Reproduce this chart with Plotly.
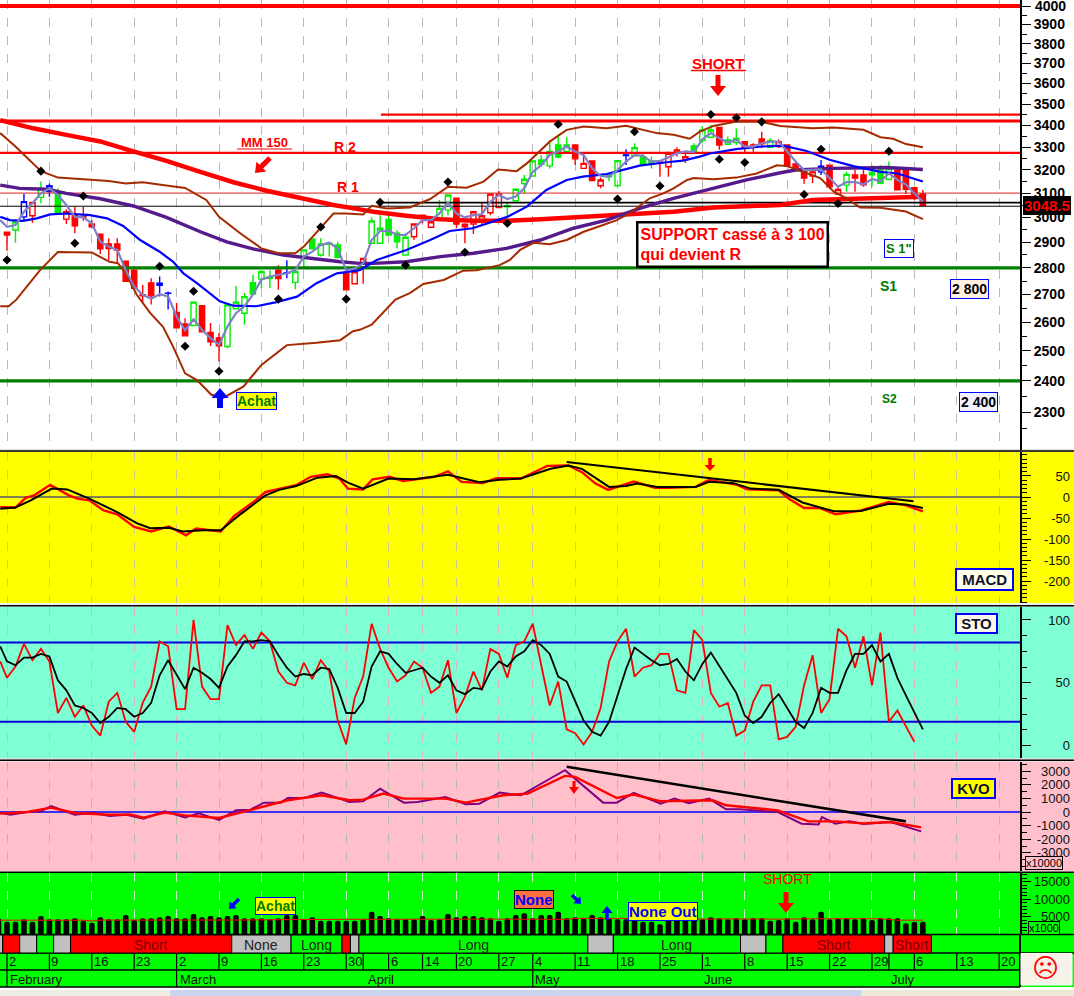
import plotly.graph_objects as go

W, H = 1074, 996
FONT = "Liberation Sans"

# ---------- bars ----------
bars = list(range(109))
c_high = [2939,2981,3096,3064,3149,3141,3120,3032,3043,3043,2988,2931,2915,2915,2825,2806,2735,2760,2767,2711,
          2669,2614,2672,2659,2597,2562,2662,2732,2705,2774,2786,2791,2810,2829,2791,2869,2912,2915,2901,2901,
          2804,2804,2836,2999,3008,3008,2948,2935,2972,3008,2995,3071,3092,3078,2975,3022,3057,3096,3110,3064,
          3120,3177,3239,3265,3333,3356,3345,3310,3261,3239,3167,3185,3240,3291,3318,3275,3258,3239,3281,3300,
          3281,3318,3396,3402,3390,3348,3385,3325,3318,3370,3340,3336,3310,3236,3206,3206,3243,3220,3133,3191,
          3199,3202,3220,3220,3236,3199,3206,3123,3113]
c_top = [2939,2981,3064,3061,3120,3131,3099,3022,3008,3003,2972,2931,2892,2892,2825,2791,2699,2743,2742,2705,
         2635,2594,2672,2659,2564,2545,2662,2672,2692,2744,2786,2763,2791,2781,2786,2869,2912,2892,2895,2888,
         2779,2785,2836,2985,2955,2991,2935,2919,2972,3008,2981,3036,3092,3078,2971,3022,3006,3096,3096,3047,
         3116,3159,3239,3243,3281,3310,3310,3310,3228,3239,3156,3173,3240,3265,3298,3258,3239,3234,3273,3288,
         3258,3306,3378,3378,3390,3333,3340,3325,3310,3337,3330,3325,3310,3225,3199,3191,3216,3220,3115,3180,
         3177,3177,3188,3199,3206,3199,3199,3123,3096]
c_bottom = [2928,2948,3001,3006,3082,3106,3018,2992,2965,2999,2961,2873,2874,2868,2749,2723,2695,2695,2734,2704,
            2580,2552,2588,2566,2531,2518,2515,2648,2632,2702,2757,2760,2759,2780,2745,2836,2873,2849,2891,2839,
            2717,2740,2804,2895,2895,2928,2901,2849,2921,2999,2959,2995,3029,2972,2961,2972,2991,3018,3040,3043,
            3068,3141,3173,3224,3217,3256,3281,3248,3206,3153,3131,3170,3131,3263,3261,3224,3224,3231,3213,3276,
            3245,3278,3330,3345,3310,3313,3321,3296,3303,3315,3300,3303,3216,3211,3164,3173,3191,3127,3096,3134,
            3164,3135,3178,3142,3158,3114,3116,3085,3048]
c_low = [2866,2897,2988,2977,3057,3085,3015,2972,2935,2985,2955,2853,2830,2817,2749,2717,2669,2663,2693,2645,
         2580,2552,2588,2566,2517,2464,2509,2648,2591,2702,2723,2723,2717,2760,2719,2797,2873,2843,2843,2839,
         2717,2740,2740,2895,2895,2928,2875,2849,2908,2975,2959,2995,3008,2955,2895,2932,2968,3008,3040,3001,
         3068,3099,3173,3213,3206,3251,3281,3221,3206,3153,3120,3150,3131,3221,3258,3224,3206,3170,3170,3258,
         3230,3278,3318,3345,3288,3313,3310,3273,3280,3296,3296,3296,3216,3199,3140,3143,3177,3120,3092,3106,
         3106,3127,3127,3138,3158,3114,3096,3071,3048]
c_kind = list("RgbrgbGrRrRRRRRRrRbbRRgRRRgggGggRbggGggGRrrggGGgrrrggRrrrrrggggGgGgRrRrggbgGGrrrrGggRggRrRgrRRRrbRrgRRgGgRRRR")

# ---------- overlays, main panel ----------
ma_x = [-0.8] + bars
ma_fast = [2988,2961,2968,3022,3057,3099,3120,3092,3050,3001,2999,2975,2901,2882,2869,2791,2729,2699,2684,2701,2693,
           2620,2571,2610,2573,2544,2521,2585,2632,2657,2699,2755,2767,2773,2779,2791,2843,2862,2888,2897,2875,2791,2797,
           2817,2908,2944,2945,2928,2928,2955,2988,2988,3015,3060,3015,2999,3008,3012,3064,3092,3075,3085,3120,3191,3220,
           3265,3281,3303,3281,3265,3206,3173,3170,3199,3236,3265,3261,3236,3239,3255,3273,3281,
           3278,3336,3364,3340,3321,3333,3303,3303,3318,3325,3325,3281,3236,3199,3199,3202,3164,3127,3147,3147,3137,3160,
           3150,3184,3156,3137,3099,3064]
up_x = [-0.8,1,4,6,9,12,14,16,19,21,23.5,25,27.5,30,32,34,35,37,38.5,40,42,43,44.8,47.5,49.9,52,54.2,56.2,57.9,60.1,
        61.3,64,66,68,70.7,73,74.6,76.6,78.6,80.5,81.7,83.3,86,88.9,91.2,95,97.5,101,103,104.5,106,108]
up_y = [3364,3303,3194,3166,3159,3151,3141,3146,3131,3122,3071,3001,2935,2875,2856,2856,2882,2955,3015,3015,3011,3047,
        3036,3040,3075,3127,3123,3149,3201,3194,3228,3325,3379,3394,3386,3398,3382,3364,3356,3338,3371,3397,3417,3417,
        3397,3386,3390,3379,3345,3338,3314,3300]
lo_x = [-0.8,0.2,1.1,3.9,6,10,12.1,13.1,14,15.3,16.9,18.4,19.6,21,22.4,24.1,25.5,27.9,30,33,36.5,39.3,40.8,41.6,43,44.5,
        45.8,47.5,49.1,51.5,53.8,55.4,58.1,59.3,60.5,62.1,64,66,68,70.3,71.9,73.4,75.8,77.4,78.6,80.2,81,83.3,86,88.4,
        90.8,92,94,95.9,97.5,99,100.6,103,106,108]
lo_y = [2657,2657,2681,2791,2861,2859,2823,2817,2779,2699,2632,2584,2514,2425,2403,2355,2345,2382,2453,2520,2528,2537,
        2568,2573,2591,2640,2681,2705,2739,2754,2789,2791,2810,2830,2869,2897,2891,2908,2941,2968,2988,3015,3078,3099,
        3120,3156,3164,3159,3166,3184,3220,3216,3191,3164,3106,3078,3040,3039,3023,2992]
mid_x = [-0.8,0.35,1.9,3.5,5.1,7,9.8,11.8,13.7,15.7,18,19.6,20.8,22.4,25.1,26.7,29.4,31.8,34.2,36.5,38.9,41.6,43.6,47.1,
         49.9,52.2,54.9,56.6,59,61.3,63.6,66,67.9,70.7,72.7,74.6,77.8,79.7,81.7,82.9,86,89,91.5,94.3,97,99.8,103,105,108]
mid_y = [3001,2988,2985,2995,3011,3015,3008,2995,2964,2908,2862,2823,2779,2742,2675,2659,2657,2672,2692,2742,2779,2791,
         2830,2869,2908,2944,2955,2975,3001,3043,3113,3156,3170,3181,3199,3218,3233,3240,3258,3272,3291,3303,3307,3283,
         3244,3216,3191,3184,3149]
ma50_x = [-0.8,1.5,4.7,7,11,14.9,18.8,22.8,25.9,29,32.6,36.5,39.3,41.6,43.2,47.1,51.1,55,58.9,62.9,66.8,70.7,74.6,78.6,
          82.5,87.2,91.2,93,97.3,103.8,108]
ma50_y = [3134,3120,3116,3099,3076,3046,2999,2941,2901,2873,2849,2833,2823,2817,2817,2823,2843,2856,2875,2908,2955,2988,
          3036,3078,3113,3156,3187,3199,3206,3210,3201]
ma150_x = [-0.8,3.1,7,11,14.9,18.8,22.8,26.7,30.6,34.6,38.5,41.6,43.2,47.1,51.1,55,58.9,62.9,66.8,70.7,74.6,78.6,83.3,
           91.2,95,99,108]
ma150_y = [3424,3386,3356,3326,3281,3239,3191,3146,3110,3078,3050,3032,3022,3006,2991,2985,2985,2991,2999,3006,3015,
           3022,3040,3050,3071,3075,3085]
pivot_x = [0,4,8,9,18,21,22,25,32,37,40,44,47,52,54,59,65,72,74,77,83,84,86,87,89,94,96,98,104]
pivot_y = [2830,3194,2895,3088,2806,2516,2712,2432,2683,2960,2683,3061,2810,3147,2860,2975,3405,3075,3370,3130,3450,
           3246,3435,3232,3416,3094,3291,3056,3282]
level_4000 = 4000
level_3450 = 3450
level_3420 = 3420
level_r2 = 3275
level_r1 = 3100
level_3060 = 3060
level_3045 = 3045
level_s1 = 2800
level_s2 = 2400
level_start = 44.1

# ---------- MACD ----------
macd_sig_x = [-0.8,1,2.8,5.3,7.1,9.7,13,15.4,16.9,19.1,20.7,23.2,25.2,27.6,30.5,32.1,34.1,36.6,38.8,40.2,42,45,48,52,
              55.7,58.1,60.6,62.9,64.1,66.2,67.8,71,73,74.3,76.7,81.2,82.8,85.7,87.7,91,93.8,97.5,100.7,104,106,108]
macd_sig_y = [-28,-25,-8,20,18,-4,-36,-63,-74,-73,-82,-79,-79,-40,4,17,26,46,50,34,20,44,42,53,35,41,44,58,67,75,67,
              24,26,32,24,24,36,33,20,17,-13,-34,-33,-16,-18,-26]
macd_x = [-0.8,1,2.2,3.2,5.1,7.3,8.3,9.7,11.4,13,15,17,19.1,21.1,22.3,25.2,26.8,29.3,30.5,34.1,35.8,37.8,39.2,40.2,42,
          43.1,45.1,46.7,50.4,52,53.6,56.1,57.7,60.6,62.9,63.7,66.2,67.8,69.4,70.9,73.9,76.4,78,81.2,82.8,86.1,87.3,
          91,92.2,94,95.8,97.7,100.7,104,106,108]
macd_y = [-24,-25,-2,4,29,4,-4,-8,-32,-41,-71,-82,-70,-91,-75,-82,-45,-8,12,28,48,54,44,20,18,42,48,38,48,61,36,33,45,
          44,66,74,75,59,32,17,37,22,22,24,41,29,18,16,-4,-26,-26,-41,-32,-12,-20,-34]
macd_trend_x = [66, 106.9]
macd_trend_y = [83, -10]

# ---------- Stochastic ----------
sto_x = [-0.8] + bars
sto_k = [67,54,63,81,68,77,67,26,38,23,32,16,8,35,42,19,11,34,47,83,79,29,29,100,47,37,37,96,80,88,77,90,83,59,50,48,66,
         53,68,59,20,1,38,55,97,77,62,51,56,67,62,42,47,68,26,39,59,44,77,73,54,80,83,97,
         64,32,51,13,10,1,11,30,67,83,93,55,62,64,73,73,44,42,92,84,42,31,34,8,12,35,48,48,5,7,15,48,72,26,37,93,87,62,87,
         48,90,19,28,15,3]
sto_d = [79,67,64,70,70,73,71,52,44,32,30,26,18,23,30,29,23,26,34,56,68,56,45,62,58,53,46,63,72,83,83,84,83,72,62,55,57,
         56,62,61,46,26,26,35,63,75,73,65,58,60,62,55,50,56,44,41,46,45,59,67,63,71,75,84,
         80,73,55,51,35,20,11,8,19,40,61,78,73,68,64,65,69,59,52,65,74,63,52,42,24,18,23,34,41,30,19,14,26,46,42,42,60,73,
         73,80,67,73,54,40,27,13]
sto_high = 82
sto_low = 19

# ---------- Klinger ----------
kvo_x = [-0.8,0.4,2.4,4,5.2,8,10.1,12.1,14.1,16.1,18.6,21,22.6,25,27,28.7,30.3,32.3,33.1,35.1,37.1,40.4,42,44,46.8,48.4,
         51.7,54.1,55.7,58.1,60.6,61.8,65.8,70.3,71.9,73.9,77.1,78.7,80.4,82.8,84.8,86.4,90.9,93.7,95.7,96.1,97.7,99.3,
         101,104.2,107.8]
kvo_y = [-49,-197,0,49,443,-197,-49,-295,-197,-492,49,-394,-98,-590,123,172,689,689,1033,1033,1427,738,787,1722,689,738,
         1107,566,615,1427,1230,1648,3075,689,689,1402,615,984,640,984,197,197,0,-861,-910,-369,-861,-689,-886,-738,-1427]
kvo_sig_x = [-0.8,2.4,5.2,8,12.1,14.5,16.1,18.6,21,25,29,33.1,37.1,40.4,42,44.4,46.8,51.7,54.1,58.5,61.4,65.8,67,71.9,
             73.9,77.1,83.2,84.8,90.9,94.5,97.7,101,104.2,107.8]
kvo_sig_y = [-123,0,320,-74,-197,-172,-418,-49,-246,-443,197,861,1230,861,910,1353,984,984,689,1230,1353,2657,2583,1033,
             1279,787,861,492,123,-689,-689,-837,-738,-1132]
kvo_trend_x = [66, 106]
kvo_trend_y = [3321, -689]

# ---------- Volume ----------
vol_x = [-1] + bars
volume = [4470,3520,3520,4190,3520,5140,4190,4190,4190,4470,3810,3240,4760,4190,4190,5430,4000,4470,4470,4760,5140,4470,
          4470,5710,4760,5140,4760,5140,5430,4470,4470,4470,4190,4470,5430,5430,4190,4760,3810,3810,3810,3810,3810,4190,
          6380,5140,4470,4190,4190,4190,5140,4000,4190,5710,4760,5140,5140,4760,4470,3810,4470,5430,5900,4470,
          5430,5430,6380,4470,4760,4470,5430,4760,4470,4190,4190,4190,3520,3520,2760,4190,4190,4190,4190,4190,4760,4470,
          4190,4470,4190,4470,4470,3810,4000,4470,3520,4760,4190,6380,4190,4470,4470,4190,4470,4000,4470,4470,4470,3050,
          3520,3520]
vol_ma_x = [-0.8,9,10,11,27,33,40,58,62,66,67,75,83,84,92,95,103,105,108]
vol_ma_y = [3950,3950,3700,3980,4000,4100,4200,4250,4200,4200,4450,4470,4250,4300,4250,4350,4350,3950,3950]

# ---------- bottom rows ----------
date_bars = [0,5,10,15,20,25,30,35,40,45,49,53,58,62,67,72,77,82,87,92,97,102,107,112,117]
date_text = ["2","9","16","23","2","9","16","23","30","6","14","20","27","4","11","18","25","1","8","15","22","29","6","13","20"]
extra_date_lines = [42, 104]
month_bars = [0,20,42.3,62,82,104]
month_text = ["February","March","April","May","June","July"]
month_offset = [1,1,0,0,0,0]
month_line_bars = [0,20,62]
state_start = [-0.9,-0.5,1.5,3.5,5.5,7.5,26.5,33.5,39.5,40.5,41.5,68.5,71.5,86.5,89.5,91.5,103.5,104.5]
state_end = [-0.5,1.5,3.5,5.5,7.5,26.5,33.5,39.5,40.5,41.5,68.5,71.5,86.5,89.5,91.5,103.5,104.5,109]
state_kind = ["n","s","n","l","n","s","n","l","s","n","l","n","l","n","l","s","n","s"]
state_text = ["","","","","","Short","None","Long","","","Long","","Long","","","Short","","Short"]

price_ticks = list(range(2300, 4001, 100))
macd_ticks = [50, 0, -50, -100, -150, -200]
sto_ticks = [100, 50, 0]
kvo_ticks = [3000, 2000, 1000, 0, -1000, -2000, -3000]
vol_ticks = [15000, 10000, 5000]

# ---------- layout helpers ----------
X_MAX = (1020 - 7) / 8.48
X_MIN = -7 / 8.48
X_RANGE = [X_MIN, X_MAX]
AXIS_END = 1020 / W


def px_x(x):
    return x / W


def px_y(y):
    return 1 - y / H


def dom(top, bottom):
    return [px_y(bottom), px_y(top)]


PANELS = {
    "main": (0, 450), "macd": (452, 603), "sto": (607, 758), "kvo": (761.5, 871), "vol": (873, 934),
}

fig = go.Figure()
ax_idx = {"main": "", "macd": "2", "sto": "3", "kvo": "4", "vol": "5"}


def line(panel, x, y, color, width, dash=None, name=None):
    i = ax_idx[panel]
    fig.add_trace(go.Scatter(x=x, y=y, mode="lines", name=name or panel, showlegend=False, hoverinfo="skip",
                             line=dict(color=color, width=width, dash=dash), xaxis="x" + i, yaxis="y" + i))


STYLES = {"g": ("#00ee00", "rgba(0,0,0,0)"), "G": ("#00ee00", "#00ee00"), "r": ("#ff0000", "rgba(0,0,0,0)"),
          "R": ("#ff0000", "#ff0000"), "b": ("#0000ff", "rgba(0,0,0,0)")}
for k, (col, fill) in STYLES.items():
    idx = [i for i in bars if c_kind[i] == k]
    style = dict(line=dict(color=col, width=1.4), fillcolor=fill)
    fig.add_trace(go.Candlestick(x=[bars[i] for i in idx], open=[c_bottom[i] for i in idx], high=[c_high[i] for i in idx],
                                 low=[c_low[i] for i in idx], close=[c_top[i] for i in idx], increasing=style,
                                 decreasing=style, whiskerwidth=0, showlegend=False, hoverinfo="skip"))

# levels
line("main", X_RANGE, [level_4000] * 2, "#ff0000", 4)
line("main", X_RANGE, [level_3420] * 2, "#ff0000", 3.2)
line("main", [level_start, X_MAX], [level_3450] * 2, "#ff0000", 2.2)
line("main", X_RANGE, [level_r2] * 2, "#ff0000", 2.2)
line("main", X_RANGE, [level_r1] * 2, "#e02020", 1)
line("main", [level_start, X_MAX], [level_3060] * 2, "#000000", 1.8)
line("main", X_RANGE, [level_3045] * 2, "#000000", 1)
line("main", X_RANGE, [level_s1] * 2, "#008000", 3.2)
line("main", X_RANGE, [level_s2] * 2, "#008000", 3.2)
# overlays
line("main", ma150_x, ma150_y, "#ff0000", 4.5, name="MM 150")
line("main", ma50_x, ma50_y, "#551a8b", 3.4)
line("main", up_x, up_y, "#a52a00", 2)
line("main", lo_x, lo_y, "#a52a00", 2)
line("main", mid_x, mid_y, "#0000ff", 2.2)
line("main", ma_x, ma_fast, "#8080c8", 2.2)
fig.add_trace(go.Scatter(x=pivot_x, y=pivot_y, mode="markers", showlegend=False, hoverinfo="skip",
                         marker=dict(symbol="diamond", size=7, color="#000000")))

# MACD
line("macd", X_RANGE, [0, 0], "#0000a0", 1)
line("macd", macd_x, macd_y, "#ff0000", 2.4)
line("macd", macd_sig_x, macd_sig_y, "#000000", 2)
line("macd", macd_trend_x, macd_trend_y, "#000000", 2)
# STO
line("sto", X_RANGE, [sto_high] * 2, "#0000e0", 2)
line("sto", X_RANGE, [sto_low] * 2, "#0000e0", 2)
line("sto", sto_x, sto_k, "#ff0000", 1.8)
line("sto", sto_x, sto_d, "#000000", 1.8)
# KVO
line("kvo", X_RANGE, [0, 0], "#0000ff", 1.4)
line("kvo", kvo_x, kvo_y, "#800080", 2)
line("kvo", kvo_sig_x, kvo_sig_y, "#ff0000", 2.4)
line("kvo", kvo_trend_x, kvo_trend_y, "#000000", 2.6)
# Volume
fig.add_trace(go.Bar(x=vol_x, y=volume, width=0.66, showlegend=False, hoverinfo="skip", xaxis="x5", yaxis="y5",
                     marker=dict(color="#000000", line=dict(width=0), cornerradius=2)))
line("vol", vol_ma_x, vol_ma_y, "#ff0000", 1)

# ---------- axes ----------
GRID = {"main": "#b8b8b8", "macd": "#c8c890", "sto": "#d8b4c4", "kvo": "#b4bca8", "vol": "#c8f8c8"}
layout = dict(width=W, height=H, margin=dict(l=0, r=0, t=0, b=0), paper_bgcolor="#ffffff", plot_bgcolor="rgba(0,0,0,0)",
              showlegend=False, boxgap=0.12, boxmode="overlay", bargap=0.3, hovermode=False, dragmode=False,
              font=dict(family=FONT, color="#000000", size=13))
for p, (top, bot) in PANELS.items():
    i = ax_idx[p]
    layout["xaxis" + i] = dict(domain=[0, AXIS_END], range=X_RANGE, anchor="y" + i, tickmode="array", tickvals=date_bars,
                               showticklabels=False, ticks="", showgrid=True, gridcolor=GRID[p], griddash="dash",
                               gridwidth=1, zeroline=False, showline=False, rangeslider=dict(visible=False),
                               fixedrange=True)


def yaxis(panel, rng, ticks, minor, **kw):
    top, bot = PANELS[panel]
    d = dict(domain=dom(top, bot), range=rng, anchor="x" + ax_idx[panel], side="right", tickmode="array", tickvals=ticks,
             ticks="outside", ticklen=9, tickwidth=1, tickcolor="#000000", showline=True, linecolor="#000000",
             linewidth=2, showgrid=False, zeroline=False, fixedrange=True,
             minor=dict(tickmode="array", tickvals=minor, ticks="outside", ticklen=5, tickcolor="#000000", showgrid=False))
    d.update(kw)
    return d


LOG_TOP = 3.60561
LOG_BOT = 3.33934
layout["yaxis"] = yaxis("main", [LOG_BOT, LOG_TOP], price_ticks, [2250 + 100 * k for k in range(18)], type="log",
                        showticklabels=True, tickfont=dict(size=14, family=FONT, color="#000000", weight="bold"),
                        ticktext=[str(v) for v in price_ticks])
MACD_R = [-252, 107]
STO_R = [-9.8, 110.3]
KVO_R = [-4338, 3713]
VOL_R = [0, 17430]
layout["yaxis2"] = yaxis("macd", MACD_R, macd_ticks, [v for v in range(-250, 110, 10)], showticklabels=False)
layout["yaxis3"] = yaxis("sto", STO_R, sto_ticks, [v * 12.5 for v in range(0, 9)], showticklabels=False)
layout["yaxis4"] = yaxis("kvo", KVO_R, kvo_ticks, [v * 500 for v in range(-8, 8)], showticklabels=False)
layout["yaxis5"] = yaxis("vol", VOL_R, vol_ticks, [v * 1000 for v in range(1, 18)], showticklabels=False)

# right-aligned labels: companion axes sharing each panel's range
LABEL_END = 1070 / W
for n, (p, rng, ticks) in enumerate([("macd", MACD_R, macd_ticks), ("sto", STO_R, sto_ticks),
                                     ("kvo", KVO_R, kvo_ticks), ("vol", VOL_R, vol_ticks)]):
    j = 6 + n
    top, bot = PANELS[p]
    layout[f"yaxis{j}"] = dict(domain=dom(top, bot), range=rng, overlaying="y" + ax_idx[p], anchor="free",
                               position=LABEL_END, side="left", tickmode="array", tickvals=ticks,
                               ticktext=[str(v) for v in ticks], ticks="", showline=False,
                               showgrid=False, zeroline=False, fixedrange=True,
                               tickfont=dict(size=13, family=FONT, color="#101010"))
    fig.add_trace(go.Scatter(x=[X_MAX], y=[rng[0]], mode="markers", marker=dict(opacity=0, size=1), showlegend=False,
                             hoverinfo="skip", xaxis="x" + ax_idx[p], yaxis=f"y{j}"))

# ---------- backgrounds and furniture ----------
shapes = []
annots = []


def rect(x0, y0, x1, y1, fill, layer="below", lc=None, lw=0):
    shapes.append(dict(type="rect", xref="paper", yref="paper", x0=px_x(x0), x1=px_x(x1), y0=px_y(y0), y1=px_y(y1),
                       fillcolor=fill, line=dict(color=lc or fill, width=lw), layer=layer))


def hline(y, x0=0, x1=W, color="#000000", width=1.5):
    shapes.append(dict(type="line", xref="paper", yref="paper", x0=px_x(x0), x1=px_x(x1), y0=px_y(y), y1=px_y(y),
                       line=dict(color=color, width=width), layer="above"))


rect(0, 452, W, 603, "#ffff00")
rect(0, 607, W, 758, "#7fffd4")
rect(0, 761.5, W, 871, "#ffc0cb")
rect(0, 873, W, 987, "#00ff00")
rect(0, 449, W, 452, "#e4e4e4")
rect(0, 603, W, 607, "#f0f0f0")
rect(0, 758, W, 761.5, "#e0e0e0")
rect(0, 871, W, 873, "#f0f0f0")
rect(0, 987, W, H, "#ffffff")
rect(0, 990, 170, H, "#f0ede2")
rect(170, 990, 861, H, "#c8d4f0")
rect(861, 990, W, H, "#ece9d8")

for y in (451, 605.8, 760.3, 872.2):
    hline(y, width=1.6)
hline(934.6)
hline(953, color="#000000", width=1.3)
hline(970, x1=1020, width=1.3)
hline(987, x1=1020, width=1.3, color="#000000")
shapes.append(dict(type="line", xref="paper", yref="paper", x0=px_x(1020), x1=px_x(1020), y0=px_y(934), y1=px_y(987),
                   line=dict(color="#000000", width=2), layer="above"))

STATE_COLOR = {"s": "#ff0000", "n": "#c0c0c0", "l": "#00ff00"}
for a, b, k, t in zip(state_start, state_end, state_kind, state_text):
    shapes.append(dict(type="rect", xref="x5", yref="paper", x0=a, x1=b, y0=px_y(953), y1=px_y(935),
                       fillcolor=STATE_COLOR[k], line=dict(color="#000000", width=1), layer="above"))
    if t:
        annots.append(dict(x=(a + b) / 2, y=px_y(944.5), xref="x5", yref="paper", text=t, showarrow=False, yanchor="middle",
                           font=dict(size=14, family=FONT, color="#7a0000" if k == "s" else "#202020")))

for b, t in zip(date_bars, date_text):
    shapes.append(dict(type="line", xref="x5", yref="paper", x0=b, x1=b, y0=px_y(970), y1=px_y(953),
                       line=dict(color="#000000", width=1.2), layer="above"))
    annots.append(dict(x=b, y=px_y(961.5), xref="x5", yref="paper", text=t, showarrow=False, xanchor="left", yanchor="middle",
                       xshift=0, font=dict(size=13, family=FONT, color="#101010")))
for b in extra_date_lines:
    shapes.append(dict(type="line", xref="x5", yref="paper", x0=b, x1=b, y0=px_y(970), y1=px_y(953),
                       line=dict(color="#000000", width=1.2), layer="above"))
for b in month_line_bars:
    shapes.append(dict(type="line", xref="x5", yref="paper", x0=b, x1=b, y0=px_y(987), y1=px_y(970),
                       line=dict(color="#000000", width=1.2), layer="above"))
for b, t, off in zip(month_bars, month_text, month_offset):
    annots.append(dict(x=b, y=px_y(979), xref="x5", yref="paper", text=t, showarrow=False, xanchor="left", yanchor="middle",
                       xshift=off, font=dict(size=13, family=FONT, color="#101010")))


def text(x, y, t, size=13, color="#000000", bold=False, bg=None, border=None, bw=0, pad=1, anchor="center", align="center"):
    annots.append(dict(x=px_x(x), y=px_y(y), xref="paper", yref="paper", text=f"<b>{t}</b>" if bold else t, showarrow=False,
                       xanchor=anchor, yanchor="middle", align=align, font=dict(size=size, family=FONT, color=color),
                       bgcolor=bg, bordercolor=border, borderwidth=bw, borderpad=pad))


def arrow(x0, y0, x1, y1, color, w, hw, hl):
    dx, dy = x1 - x0, y1 - y0
    n = (dx * dx + dy * dy) ** 0.5
    ux, uy = dx / n, dy / n
    vx, vy = -uy, ux
    bx, by = x1 - ux * hl, y1 - uy * hl
    pts = [(x0 + vx * w / 2, y0 + vy * w / 2), (bx + vx * w / 2, by + vy * w / 2), (bx + vx * hw / 2, by + vy * hw / 2),
           (x1, y1), (bx - vx * hw / 2, by - vy * hw / 2), (bx - vx * w / 2, by - vy * w / 2),
           (x0 - vx * w / 2, y0 - vy * w / 2)]
    path = "M " + " L ".join(f"{px_x(a):.5f} {px_y(b):.5f}" for a, b in pts) + " Z"
    shapes.append(dict(type="path", xref="paper", yref="paper", path=path, fillcolor=color, line=dict(width=0), layer="above"))


RED = "#ff0000"
BLUE = "#0000ff"
GREEN = "#007a00"
NB = "\u00a0"
text(1034, 6.5, "4000", 14, "#000000", True, anchor="left")
text(718, 63, "SHORT", 15, RED, True)
hline(70.5, 691, 746, RED, 1.5)
arrow(718, 75, 718, 96, RED, 5, 16, 10)
text(264, 142.5, "MM 150", 13, RED, True)
hline(149, 237, 292, RED, 1)
arrow(270, 158, 255, 173, RED, 5, 14, 9)
text(345, 147, "R 2", 14, RED, True)
text(348, 187, "R 1", 14, RED, True)
text(732, 245, "SUPPORT cassé à 3 100<br>qui devient R", 16, RED, True, bg="#ffffff", border="#000000", bw=2.5, pad=2,
     anchor="center", align="left")
text(1047, 205.5, "3048.5", 15, RED, True, bg="#000000", pad=1)
text(899, 248, 'S 1"', 13, GREEN, True, bg="#ffffff", border=BLUE, bw=1, pad=1)
text(888, 286, "S1", 14, GREEN, True)
text(889, 399, "S2", 12, GREEN, True)
text(969, 289, "2 800", 14, "#000000", True, bg="#fff0e0", border=BLUE, bw=1, pad=1)
text(978, 402, "2 400", 14, "#000000", True, bg="#f0f0ff", border=BLUE, bw=1, pad=1)
arrow(220, 408, 220, 388, BLUE, 6, 17, 10)
text(256.5, 401, "Achat", 14, GREEN, True, bg="#ffff00", border=BLUE, bw=1, pad=0)
text(984, 579, NB + "MACD" + NB, 15, "#101030", True, bg="#ffffe8", border=BLUE, bw=2, pad=1)
text(976, 623, NB + "STO" + NB, 15, "#101030", True, bg="#fff8e8", border=BLUE, bw=2, pad=0)
text(973, 788, NB + "KVO" + NB, 15, "#101030", True, bg="#ffff00", border=BLUE, bw=2, pad=0)
arrow(710, 458, 710, 471, RED, 3.5, 11, 6)
arrow(574, 781, 574, 794, RED, 3, 10, 7)
text(1044, 862.5, "x10000", 11, "#000000", False, bg="#ffc0cb", border="#000000", bw=1, pad=0)
text(1044, 928, "x1000", 11, "#000000", False, bg="#00ff00", border="#000000", bw=1, pad=0)
arrow(239, 899, 229, 909, BLUE, 3.5, 10, 6)
text(275, 906, "Achat", 14, GREEN, True, bg="#ffff00", border=BLUE, bw=1, pad=0)
text(534, 899, "None", 15, BLUE, True, bg="#ff7040", border="#101010", bw=1, pad=0)
arrow(572, 895, 581, 904, BLUE, 3.5, 10, 6)
arrow(607, 920, 607, 906, BLUE, 3.5, 11, 7)
text(663, 911, "None Out", 15, BLUE, True, bg="#ffff00", border=BLUE, bw=1, pad=0)
text(787, 879, "SHORT", 14, RED, False)
arrow(786, 892, 786, 913, RED, 5, 16, 10)
rect(1021, 953.5, 1072, 985, "#f6f2e8", layer="above", lc="#ffffff", lw=1)
text(1045, 968, "\u2639", 26, RED, False)

layout["shapes"] = shapes
layout["annotations"] = annots
fig.update_layout(**layout)
fig.write_html("out.html", config=dict(displayModeBar=False, staticPlot=True),
               post_script="document.body.style.margin='0';document.body.style.overflow='hidden';")
